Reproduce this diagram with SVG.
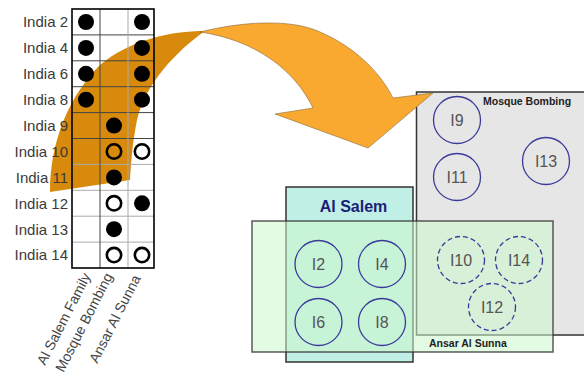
<svg xmlns="http://www.w3.org/2000/svg" width="584" height="377" viewBox="0 0 584 377">
<style>
.lbl{font-family:"Liberation Sans",Arial,sans-serif;font-size:15px;fill:#3a3a3a;text-anchor:end}
.rot{font-family:"Liberation Sans",Arial,sans-serif;font-size:14px;fill:#444;text-anchor:end}
.dot{fill:#000}
.ring{fill:none;stroke:#000;stroke-width:2.6}
.gh{stroke:#444;stroke-width:1}
.gl{stroke:#aaa;stroke-width:1}
.node circle{fill:none;stroke:#3a3a9a;stroke-width:1.3}
.node.dash circle{stroke-dasharray:5 3}
.node text{font-family:"Liberation Sans",Arial,sans-serif;font-size:16px;fill:#555;text-anchor:middle}
.box{stroke:#333;stroke-width:1.5}
.cap{font-family:"Liberation Sans",Arial,sans-serif;font-size:10.5px;font-weight:bold;fill:#222}
</style>
<rect width="584" height="377" fill="#fff"/>

<g id="mosque-bombing">
<rect class="box" x="416.5" y="92" width="180" height="243" fill="#e6e6e6"/>
<text class="cap" x="483" y="105">Mosque Bombing</text>
</g>

<g id="connectors">
<path d="M50,192 C50,140 70,95 100,65 C130,40 170,31 205,31 C175,52 145,85 137,120 C132,145 131,165 130,180 Z" fill="#d88a0c"/>
<path d="M200,32 C240,22 290,18 320,32 C355,47 380,72 393,98 L433,93 L368,148 L275,114 L313,108 C295,70 255,40 200,32 Z" fill="#f9a830" stroke="#8a6a3a" stroke-width="0.6"/>
</g>

<g id="matrix">
<line class="gh" x1="72" y1="34.9" x2="154" y2="34.9"/>
<line class="gh" x1="72" y1="60.8" x2="154" y2="60.8"/>
<line class="gh" x1="72" y1="86.7" x2="154" y2="86.7"/>
<line class="gh" x1="72" y1="112.6" x2="154" y2="112.6"/>
<line class="gh" x1="72" y1="138.5" x2="154" y2="138.5"/>
<line class="gl" x1="72" y1="164.4" x2="154" y2="164.4"/>
<line class="gl" x1="72" y1="190.3" x2="154" y2="190.3"/>
<line class="gl" x1="72" y1="216.2" x2="154" y2="216.2"/>
<line class="gl" x1="72" y1="242.1" x2="154" y2="242.1"/>
<line class="gh" x1="100" y1="9" x2="100" y2="268"/>
<line class="gl" x1="128" y1="9" x2="128" y2="268"/>
<rect x="72" y="9" width="82" height="259" fill="none" stroke="#000" stroke-width="1.6"/>
<text class="lbl" x="68" y="27.3">India 2</text>
<text class="lbl" x="68" y="53.2">India 4</text>
<text class="lbl" x="68" y="79.1">India 6</text>
<text class="lbl" x="68" y="105">India 8</text>
<text class="lbl" x="68" y="130.9">India 9</text>
<text class="lbl" x="68" y="156.8">India 10</text>
<text class="lbl" x="68" y="182.7">India 11</text>
<text class="lbl" x="68" y="208.6">India 12</text>
<text class="lbl" x="68" y="234.5">India 13</text>
<text class="lbl" x="68" y="260.4">India 14</text>
<circle class="dot" cx="86" cy="22" r="8"/><circle class="dot" cx="142" cy="22" r="8"/>
<circle class="dot" cx="86" cy="47.9" r="8"/><circle class="dot" cx="142" cy="47.9" r="8"/>
<circle class="dot" cx="86" cy="73.8" r="8"/><circle class="dot" cx="142" cy="73.8" r="8"/>
<circle class="dot" cx="86" cy="99.7" r="8"/><circle class="dot" cx="142" cy="99.7" r="8"/>
<circle class="dot" cx="114" cy="125.6" r="8"/>
<circle class="ring" cx="114" cy="151.5" r="7.2"/><circle class="ring" cx="142" cy="151.5" r="7.2"/>
<circle class="dot" cx="114" cy="177.4" r="8"/>
<circle class="ring" cx="114" cy="203.3" r="7.2"/><circle class="dot" cx="142" cy="203.3" r="8"/>
<circle class="dot" cx="114" cy="229.2" r="8"/>
<circle class="ring" cx="114" cy="255.1" r="7.2"/><circle class="ring" cx="142" cy="255.1" r="7.2"/>
<text class="rot" transform="translate(91,276) rotate(-63)">Al Salem Family</text>
<text class="rot" transform="translate(113,276) rotate(-63)">Mosque Bombing</text>
<text class="rot" transform="translate(141,278) rotate(-63)">Ansar Al Sunna</text>
</g>

<g id="al-salem">
<rect class="box" x="286" y="187" width="127" height="175" fill="#c0efe5"/>
<text x="353.5" y="212" font-family="Liberation Sans, Arial, sans-serif" font-size="16" font-weight="bold" fill="#1c1c7a" text-anchor="middle">Al Salem</text>
</g>

<g id="ansar-al-sunna">
<rect x="252" y="221" width="301" height="131" fill="#ccf5cc" fill-opacity="0.55" stroke="#333" stroke-opacity="0.8" stroke-width="1.5"/>
<text class="cap" x="429" y="347">Ansar Al Sunna</text>
</g>

<g id="I9" class="node"><circle cx="457" cy="120" r="23.5"/><text x="457" y="125.5">I9</text></g>
<g id="I11" class="node"><circle cx="457" cy="177" r="23.5"/><text x="457" y="182.5">I11</text></g>
<g id="I13" class="node"><circle cx="546" cy="161" r="23.5"/><text x="546" y="166.5">I13</text></g>
<g id="I2" class="node"><circle cx="318.5" cy="264" r="23.5"/><text x="318.5" y="269.5">I2</text></g>
<g id="I4" class="node"><circle cx="382" cy="264" r="23.5"/><text x="382" y="269.5">I4</text></g>
<g id="I6" class="node"><circle cx="318.5" cy="322" r="23.5"/><text x="318.5" y="327.5">I6</text></g>
<g id="I8" class="node"><circle cx="382" cy="322" r="23.5"/><text x="382" y="327.5">I8</text></g>
<g id="I10" class="node dash"><circle cx="461" cy="260" r="23.5"/><text x="461" y="265.5">I10</text></g>
<g id="I14" class="node dash"><circle cx="519" cy="260" r="23.5"/><text x="519" y="265.5">I14</text></g>
<g id="I12" class="node dash"><circle cx="492" cy="307" r="23.5"/><text x="492" y="312.5">I12</text></g>
</svg>
